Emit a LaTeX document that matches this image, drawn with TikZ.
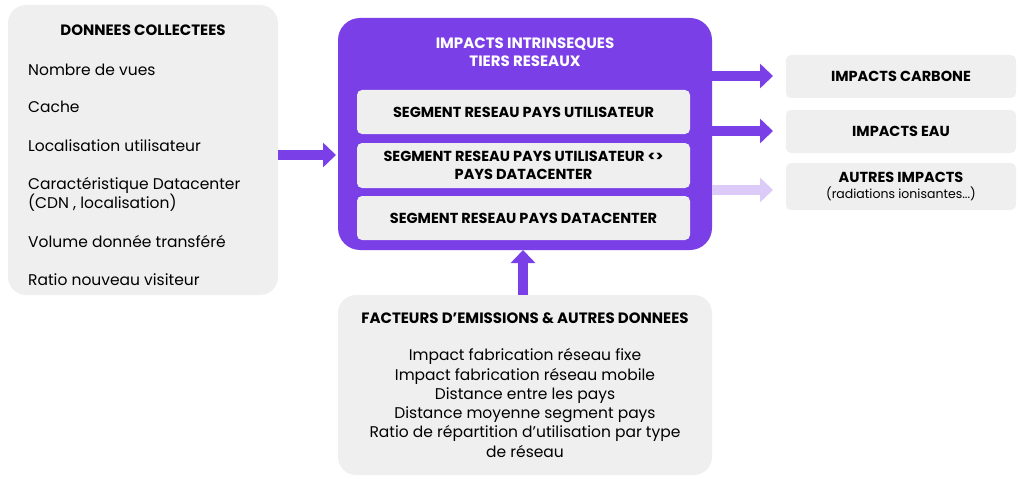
\documentclass[tikz,border=0pt]{standalone}
\usepackage{fontspec}
\setmainfont{Poppins}
\usetikzlibrary{positioning,arrows.meta}
\definecolor{violet}{HTML}{7B3FE8}
\definecolor{lightviolet}{HTML}{DCCBF8}
\definecolor{panel}{HTML}{EFEFEF}
\tikzset{
	>={Triangle[length=13pt,width=24pt]}
}
\begin{document}
\begin{tikzpicture}[
x=1pt, y=-1pt,
every node/.style = {
	font = \fontsize{15.5}{19}\selectfont,
	align=center,
	inner sep=0pt
},
panelbox/.style = {
	fill=panel,
	rounded corners=18pt
},
segment/.style = {
	fill=panel,
	rounded corners=5pt,
	minimum width=333pt,
	font=\bfseries\fontsize{14.5}{18}\selectfont
},
sidebox/.style = {
	fill=panel,
	rounded corners=5pt,
	minimum width=230pt,
	font=\bfseries\fontsize{14.5}{16}\selectfont
},
title/.style = {
	font=\bfseries\fontsize{15}{18}\selectfont
},
item/.style = {
	anchor=west
},
flow/.style = {
	->,
	line width=10pt,
	draw=violet
}
]
\useasboundingbox (0,0) rectangle (1024,484);

% collected data
\fill[panelbox] (8,5) rectangle (278,295);
\node (collect) [title] at (143,30) {DONNEES COLLECTEES};
\node (vues) [item] at (28,70) {Nombre de vues};
\node (cache) [item] at (28,107) {Cache};
\node (loc) [item] at (28,146) {Localisation utilisateur};
\node (dc) [item, align=left] at (28,194) {Caractéristique Datacenter\\(CDN , localisation)};
\node (vol) [item] at (28,242) {Volume donnée transféré};
\node (ratio) [item] at (28,280) {Ratio nouveau visiteur};
\coordinate (collectout) at (278,155);

% network impacts
\fill[violet, rounded corners=22pt] (338,18) rectangle (712,250);
\node (impacts) [title, text=white] at (525,52) {IMPACTS INTRINSEQUES\\TIERS RESEAUX};
\node (seguser) [segment, minimum height=44pt] at (523.5,112) {SEGMENT RESEAU PAYS UTILISATEUR};
\node (segboth) [segment, minimum height=45pt] at (523.5,165.5) {SEGMENT RESEAU PAYS UTILISATEUR <>\\PAYS DATACENTER};
\node (segdc) [segment, minimum height=44pt] at (523.5,218) {SEGMENT RESEAU PAYS DATACENTER};
\coordinate (netin) at (336,155);
\coordinate (netbottom) at (523,250);

% emission factors
\fill[panelbox] (338,295) rectangle (712,475);
\node (factors) [title] at (525,318) {FACTEURS D'EMISSIONS \& AUTRES DONNEES};
\node (facts) [font=\fontsize{15.5}{19.3}\selectfont] at (525,403)
	{Impact fabrication réseau fixe\\Impact fabrication réseau mobile\\Distance entre les pays\\Distance moyenne segment pays\\Ratio de répartition d'utilisation par type\\de réseau};
\coordinate (factorstop) at (523,295);

% outputs
\node (carbone) [sidebox, minimum height=43pt] at (901,76.5) {IMPACTS CARBONE};
\node (eau) [sidebox, minimum height=43pt] at (901,131.5) {IMPACTS EAU};
\node (autres) [sidebox, minimum height=47pt] at (901,186.5) {AUTRES IMPACTS\\{\mdseries\fontsize{12.5}{14}\selectfont (radiations ionisantes...)}};
\coordinate (carbonein) at (773,76);
\coordinate (eauin) at (773,131);
\coordinate (autresin) at (773,190);

\draw[flow] (collectout) -- (netin);
\draw[flow] (factorstop) -- (netbottom);
\draw[flow] (712,76) -- (carbonein);
\draw[flow] (712,131) -- (eauin);
\draw[flow, draw=lightviolet] (712,190) -- (autresin);
\end{tikzpicture}
\end{document}
